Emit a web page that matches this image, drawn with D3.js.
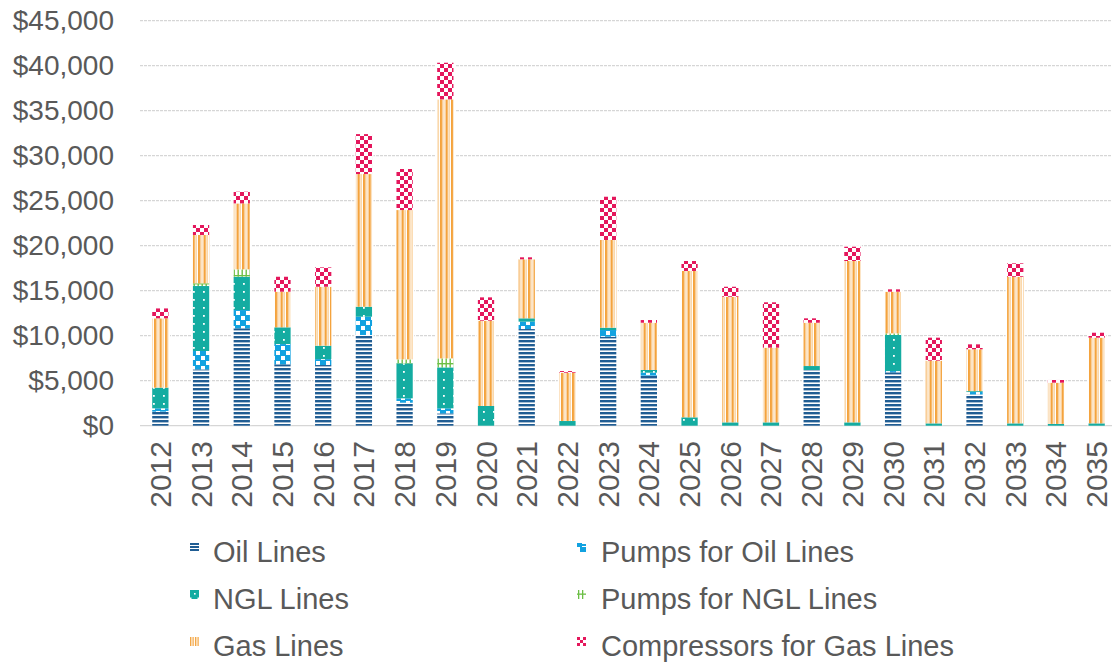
<!DOCTYPE html>
<html>
<head>
<meta charset="utf-8">
<script src="https://cdn.jsdelivr.net/npm/d3@7"></script>
<style>
  html, body { margin: 0; padding: 0; background: #fff; }
  svg { display: block; font-family: "Liberation Sans", Arial, sans-serif; }
</style>
</head>
<body>
<svg id="chart" width="1112" height="664"></svg>
<script>
const years = ["2012","2013","2014","2015","2016","2017","2018","2019","2020","2021","2022","2023",
               "2024","2025","2026","2027","2028","2029","2030","2031","2032","2033","2034","2035"];
const oilLines        = [1560, 6260, 10820, 6820, 6740, 10080, 2560, 1370, 0, 10740, 0, 9890, 5560, 0, 0, 0, 6190, 0, 5930, 0, 3480, 0, 0, 0];
const pumpsOilLines   = [370, 2040, 2030, 2250, 660, 2030, 480, 560, 0, 820, 0, 740, 330, 0, 0, 0, 0, 0, 140, 0, 260, 0, 0, 0];
const nglLines        = [2300, 7220, 3700, 1860, 1490, 1110, 3890, 4550, 2190, 370, 520, 260, 300, 930, 370, 370, 440, 370, 4010, 260, 100, 260, 200, 260];
const pumpsNglLines   = [0, 300, 820, 0, 0, 0, 440, 1000, 0, 0, 0, 0, 0, 0, 0, 0, 0, 0, 180, 0, 0, 0, 0, 0];
const gasLines        = [7700, 5370, 7330, 3960, 6550, 14740, 16590, 28780, 9480, 6560, 5370, 9740, 5250, 16260, 13960, 8300, 4810, 17930, 4630, 6970, 4650, 16290, 4580, 9520];
const compressorsGas  = [1100, 1110, 1300, 1660, 2150, 4440, 4560, 4070, 2590, 220, 180, 4810, 300, 1110, 1110, 5040, 490, 1590, 260, 2550, 550, 1490, 300, 550];
const yTicks = [0, 5000, 10000, 15000, 20000, 25000, 30000, 35000, 40000, 45000];

const seriesKeys  = ["oil", "pumpsOil", "ngl", "pumpsNgl", "gas", "comp"];
const seriesNames = ["Oil Lines", "Pumps for Oil Lines", "NGL Lines", "Pumps for NGL Lines", "Gas Lines", "Compressors for Gas Lines"];
const seriesData  = [oilLines, pumpsOilLines, nglLines, pumpsNglLines, gasLines, compressorsGas];

const rows = years.map((y, i) => {
  const r = { year: y };
  seriesKeys.forEach((k, j) => r[k] = seriesData[j][i]);
  return r;
});

const svg = d3.select("#chart");
const defs = svg.append("defs");

const cOil = "#205d93", cPump = "#12a2e0", cNgl = "#14aca1", cPNgl = "#6cbf45", cGas = "#f4a33d", cGasL = "#f9cb8f", cComp = "#e4175c";
const patternSpecs = {
  oil:      [8, 4, "#fff", [[0, 0, 8, 2.4, cOil]]],
  pumpsOil: [10, 10, cPump, [[6, 1, 4, 4, "#fff"], [1, 6, 4, 4, "#fff"]]],
  ngl:      [10, 8, cNgl, [[3, 3, 1.8, 1.8, "#fff"]]],
  pumpsNgl: [8, 8, "#fff", [[1.5, 0, 1.4, 8, cPNgl], [5.5, 0, 1.4, 8, cPNgl], [0, 3, 8, 1.4, cPNgl]]],
  gas:      [5.5, 4, "#fff", [[0, 0, 2.4, 4, cGas], [3.3, 0, 1.1, 4, cGasL]]],
  comp:     [8, 8, "#fff", [[0, 0, 4, 4, cComp], [4, 4, 4, 4, cComp]]]
};
const legendSpecs = {
  oil:      [9, 3, "#fff", [[0, 0, 9, 2, cOil]]],
  pumpsOil: [9, 9, "#fff", [[0, 0, 5, 4, cPump], [3, 4, 6, 5, cPump], [5, 1, 4, 2, cPump]]],
  ngl:      [9, 9, cNgl, [[4, 3, 1.6, 1.6, "#fff"], [0, 7.5, 1.5, 1.5, "#fff"], [7.5, 7.5, 1.5, 1.5, "#fff"]]],
  pumpsNgl: [9, 9, "#fff", [[1, 0, 1.3, 9, cPNgl], [5, 0, 1.3, 9, cPNgl], [0, 3.5, 9, 1.3, cPNgl]]],
  gas:      [2.5, 9, "#fff", [[0, 0, 1.3, 9, cGas]]],
  comp:     [6, 6, "#fff", [[0, 0, 3, 3, cComp], [3, 3, 3, 3, cComp]]]
};
function pattern(id, spec, tx, ty) {
  const [w, h, bg, shapes] = spec;
  const p = defs.append("pattern").attr("id", id).attr("patternUnits", "userSpaceOnUse")
    .attr("width", w).attr("height", h);
  if (tx !== undefined) p.attr("patternTransform", `translate(${tx},${ty})`);
  p.append("rect").attr("width", w).attr("height", h).attr("fill", bg);
  shapes.forEach(s => p.append("rect").attr("x", s[0]).attr("y", s[1]).attr("width", s[2]).attr("height", s[3]).attr("fill", s[4]));
}
seriesKeys.forEach(k => pattern("pat-" + k, patternSpecs[k]));

const x = d3.scaleBand().domain(years).range([140, 1117]).paddingInner(0.6).paddingOuter(0.3);
const y = d3.scaleLinear().domain([0, 45000]).range([425.7, 20.7]);

// gridlines
svg.append("g").selectAll("line").data(yTicks).join("line")
  .attr("x1", 140).attr("x2", 1112)
  .attr("y1", d => y(d)).attr("y2", d => y(d))
  .attr("stroke", "#d6d6d6").attr("stroke-width", 1.2)
  .attr("stroke-dasharray", d => d === 0 ? null : "3,1");

// y labels
const yAxis = d3.axisLeft(y).tickValues(yTicks).tickSize(0).tickPadding(0)
  .tickFormat(d => "$" + d3.format(",")(d));
const gy = svg.append("g").attr("transform", "translate(114,0)").call(yAxis);
gy.select(".domain").remove();
gy.selectAll("text").attr("font-size", 28).attr("fill", "#595959")
  .attr("font-family", "'Liberation Sans', Arial, sans-serif");

// x labels
const xAxis = d3.axisBottom(x).tickSize(0).tickPadding(0);
const gx = svg.append("g").attr("transform", "translate(0,441)").call(xAxis);
gx.select(".domain").remove();
gx.selectAll("text")
  .attr("font-size", 30).attr("fill", "#595959")
  .attr("font-family", "'Liberation Sans', Arial, sans-serif")
  .attr("transform", "rotate(-90)")
  .attr("text-anchor", "end")
  .attr("x", 0).attr("y", 0).attr("dy", "0.35em");

// bars
const stacked = d3.stack().keys(seriesKeys)(rows);
const totals = rows.map(r => d3.sum(seriesKeys, k => r[k]));
svg.append("g").selectAll("rect").data(rows).join("rect")
  .attr("x", d => x(d.year) - 1.5).attr("width", x.bandwidth() + 3)
  .attr("y", (d, i) => y(totals[i]) - 1.5)
  .attr("height", (d, i) => y(0) - y(totals[i]) + 1)
  .attr("fill", "#fff");

svg.append("g").selectAll("g").data(stacked).join("g")
  .attr("fill", d => `url(#pat-${d.key})`)
  .selectAll("rect").data(d => d).join("rect")
  .attr("x", d => x(d.data.year))
  .attr("width", x.bandwidth())
  .attr("y", d => y(d[1]))
  .attr("height", d => Math.max(0, y(d[0]) - y(d[1])));

// legend
const legendPos = [[190, 213, 562], [577, 601, 562], [190, 213, 609], [577, 601, 609], [190, 213, 656], [577, 601, 656]];
const lg = svg.append("g");
seriesKeys.forEach((k, i) => {
  const [sx, tx, by] = legendPos[i];
  const sy = by - 19;
  pattern("leg-" + k, legendSpecs[k], sx, sy);
  lg.append("rect").attr("x", sx).attr("y", sy).attr("width", 9).attr("height", 9)
    .attr("fill", `url(#leg-${k})`);
  lg.append("text").attr("x", tx).attr("y", by).attr("font-size", 29).attr("fill", "#595959")
    .text(seriesNames[i]);
});
</script>
</body>
</html>
